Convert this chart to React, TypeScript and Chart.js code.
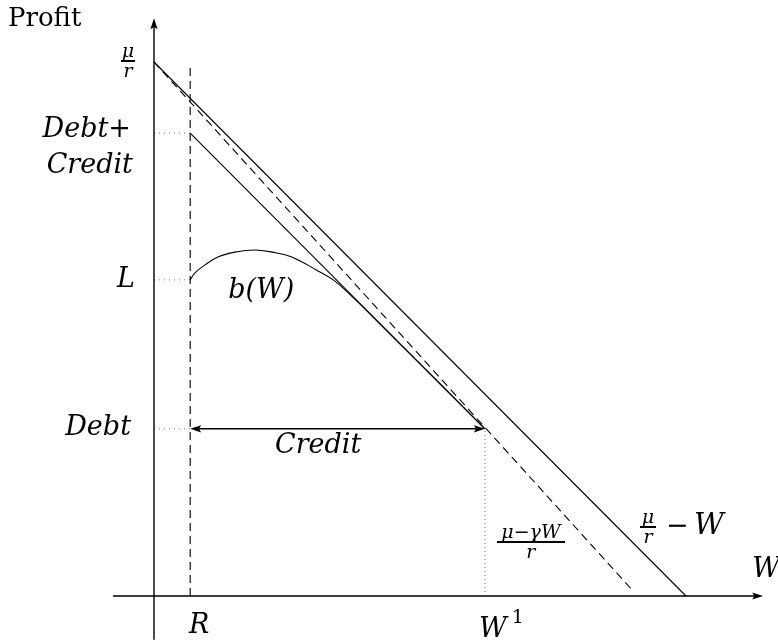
import React, { useEffect, useRef, useState } from "react";
import { Chart, registerables } from "chart.js";

Chart.register(...registerables);

// Model quantities (profit units on y, wealth W on x)
const muOverR = 10; // intercept of μ/r − W and (μ−γW)/r
const zeroProfitW = 10; // where μ/r − W reaches zero
const dashedEndW = 9.0; // end of the (μ−γW)/r segment
const dashedEndProfit = 0.1;
const R = 0.68;
const W1 = 6.22;
const L = 5.92;
const debt = 3.13;
const debtPlusCredit = 8.67;
const rLineTop = 9.94;

// b(W): borrowing capacity curve
const bW = [0.68, 0.77, 0.96, 1.2, 1.52, 1.9, 2.22, 2.59, 3.06, 3.37, 3.68, 4.0, 4.62, 5.38, 6.22];
const bProfit = [5.92, 6.05, 6.2, 6.35, 6.44, 6.48, 6.44, 6.35, 6.1, 5.92, 5.65, 5.34, 4.72, 3.97, 3.13];

// axis extents
const xAxisFrom = -0.77;
const xAxisTo = 11.45;
const yAxisFrom = -0.82;
const yAxisTo = 10.82;

const seg = (x0: number, y0: number, x1: number, y1: number) => [
  { x: x0, y: y0 },
  { x: x1, y: y1 },
];

const INK = "#000";
const DOT = "#777";
const SERIF = '"DejaVu Serif", serif';

function arrowHead(ctx: CanvasRenderingContext2D, x: number, y: number, dx: number, dy: number) {
  const len = 11;
  const half = 3.6;
  const n = Math.hypot(dx, dy);
  const ux = dx / n;
  const uy = dy / n;
  ctx.beginPath();
  ctx.moveTo(x, y);
  ctx.lineTo(x - ux * len - uy * half, y - uy * len + ux * half);
  ctx.lineTo(x - ux * len * 0.8, y - uy * len * 0.8);
  ctx.lineTo(x - ux * len + uy * half, y - uy * len - ux * half);
  ctx.closePath();
  ctx.fill();
}

// axes with arrowheads and the Credit double arrow
const decorations = {
  id: "decorations",
  afterDatasetsDraw(chart: any) {
    const ctx: CanvasRenderingContext2D = chart.ctx;
    const X = (v: number) => chart.scales.x.getPixelForValue(v);
    const Y = (v: number) => chart.scales.y.getPixelForValue(v);
    ctx.save();
    ctx.strokeStyle = INK;
    ctx.fillStyle = INK;
    ctx.setLineDash([]);

    ctx.lineWidth = 1.4;
    ctx.beginPath();
    ctx.moveTo(X(xAxisFrom), Y(0));
    ctx.lineTo(X(xAxisTo) - 6, Y(0));
    ctx.moveTo(X(0), Y(yAxisFrom));
    ctx.lineTo(X(0), Y(yAxisTo) + 6);
    ctx.stroke();
    arrowHead(ctx, X(xAxisTo), Y(0), 1, 0);
    arrowHead(ctx, X(0), Y(yAxisTo), 0, -1);

    ctx.lineWidth = 1.5;
    ctx.beginPath();
    ctx.moveTo(X(R) + 6, Y(debt));
    ctx.lineTo(X(W1) - 6, Y(debt));
    ctx.stroke();
    arrowHead(ctx, X(R), Y(debt), -1, 0);
    arrowHead(ctx, X(W1), Y(debt), 1, 0);
    ctx.restore();
  },
};

type Align = "left" | "center" | "right";

// text placed by its baseline point
function Label(props: {
  x: number;
  y: number;
  size: number;
  align?: Align;
  italic?: boolean;
  children: React.ReactNode;
}) {
  const { x, y, size, align = "left", italic = true, children } = props;
  const shift = align === "center" ? "-50%" : align === "right" ? "-100%" : "0";
  return (
    <div
      style={{
        position: "absolute",
        left: x,
        top: y - size * 0.84,
        fontFamily: SERIF,
        fontStyle: italic ? "italic" : "normal",
        fontSize: size,
        lineHeight: `${size}px`,
        whiteSpace: "nowrap",
        color: INK,
        transform: `translateX(${shift})`,
      }}
    >
      {children}
    </div>
  );
}

function Frac(props: { num: string; den: string; cx: number; barY: number; barW: number; size: number }) {
  const { num, den, cx, barY, barW, size } = props;
  return (
    <>
      <Label x={cx} y={barY - 4} size={size} align="center">
        {num}
      </Label>
      <div
        style={{ position: "absolute", left: cx - barW / 2, top: barY - 0.6, width: barW, height: 1.3, background: INK }}
      />
      <Label x={cx} y={barY + 16} size={size} align="center">
        {den}
      </Label>
    </>
  );
}

export default function App() {
  const ref = useRef<HTMLCanvasElement | null>(null);
  const [map, setMap] = useState<{ X: (v: number) => number; Y: (v: number) => number } | null>(null);

  useEffect(() => {
    if (!ref.current) return;
    const line = (data: any[], extra: any = {}) => ({
      data,
      showLine: true,
      borderColor: INK,
      borderWidth: 1.1,
      pointRadius: 0,
      fill: false,
      ...extra,
    });
    const dotted = { borderColor: DOT, borderWidth: 1, borderDash: [1, 4] };
    const chart = new Chart(ref.current, {
      type: "scatter",
      data: {
        datasets: [
          line(seg(0, muOverR, zeroProfitW, 0)),
          line(seg(0, muOverR, dashedEndW, dashedEndProfit), { borderDash: [8, 5] }),
          line(seg(R, debtPlusCredit, W1, debt)),
          line(bW.map((x, i) => ({ x, y: bProfit[i] })), { tension: 0.4 }),
          line(seg(R, 0, R, rLineTop), { borderDash: [8, 5] }),
          line(seg(0, debtPlusCredit, R, debtPlusCredit), dotted),
          line(seg(0, L, R, L), dotted),
          line(seg(0, debt, R, debt), dotted),
          line(seg(W1, 0, W1, debt), { ...dotted, borderDash: [1, 3] }),
        ],
      },
      options: {
        animation: false,
        responsive: false,
        devicePixelRatio: 1,
        layout: { padding: 0 },
        plugins: { legend: { display: false }, tooltip: { enabled: false } },
        events: [],
        scales: {
          x: { type: "linear", display: false, min: -2.8947, max: 11.7293 },
          y: { type: "linear", display: false, min: -0.8989, max: 11.161 },
        },
      },
      plugins: [decorations],
    });
    const xs = chart.scales.x;
    const ys = chart.scales.y;
    setMap({ X: (v: number) => xs.getPixelForValue(v), Y: (v: number) => ys.getPixelForValue(v) });
    return () => chart.destroy();
  }, []);

  const S = 27;
  const F = 19;
  return (
    <div style={{ position: "fixed", left: 0, top: 0, width: 778, height: 644, background: "#fff", overflow: "hidden" }}>
      <canvas ref={ref} width={778} height={644} style={{ position: "absolute", left: 0, top: 0, width: 778, height: 644 }} />
      {map && (
        <>
          <Label x={8} y={26} size={26} italic={false}>
            Profit
          </Label>
          <Frac num="μ" den="r" cx={map.X(0) - 26} barY={map.Y(muOverR) - 1} barW={14} size={F} />
          <Label x={map.X(0) - 23} y={map.Y(debtPlusCredit) + 4} size={S} align="right">
            Debt+
          </Label>
          <Label x={map.X(0) - 21} y={map.Y(debtPlusCredit) + 40} size={S} align="right">
            Credit
          </Label>
          <Label x={map.X(0) - 19} y={map.Y(L) + 7} size={S} align="right">
            L
          </Label>
          <Label x={map.X(R) + 38} y={map.Y(L) + 18} size={S}>
            b(W)
          </Label>
          <Label x={map.X(0) - 23} y={map.Y(debt) + 6} size={S} align="right">
            Debt
          </Label>
          <Label x={map.X(R) + 128} y={map.Y(debt) + 24} size={S} align="center">
            Credit
          </Label>
          <Label x={map.X(R) + 9} y={map.Y(0) + 37} size={S} align="center">
            R
          </Label>
          <Label x={map.X(W1) + 8} y={map.Y(0) + 41} size={S} align="center">
            W
          </Label>
          <Label x={map.X(W1) + 33} y={map.Y(0) + 27} size={F} align="center" italic={false}>
            1
          </Label>
          <Label x={map.X(xAxisTo) - 11} y={map.Y(0) - 19} size={S}>
            W
          </Label>
          <Frac num="μ−γW" den="r" cx={map.X(W1) + 46} barY={map.Y(0) - 54} barW={68} size={F} />
          <Frac num="μ" den="r" cx={map.X(zeroProfitW) - 38} barY={map.Y(0) - 69} barW={16} size={F} />
          <Label x={map.X(zeroProfitW) - 20} y={map.Y(0) - 62} size={S} italic={false}>
            −
          </Label>
          <Label x={map.X(zeroProfitW) + 8} y={map.Y(0) - 62} size={29}>
            W
          </Label>
        </>
      )}
    </div>
  );
}
